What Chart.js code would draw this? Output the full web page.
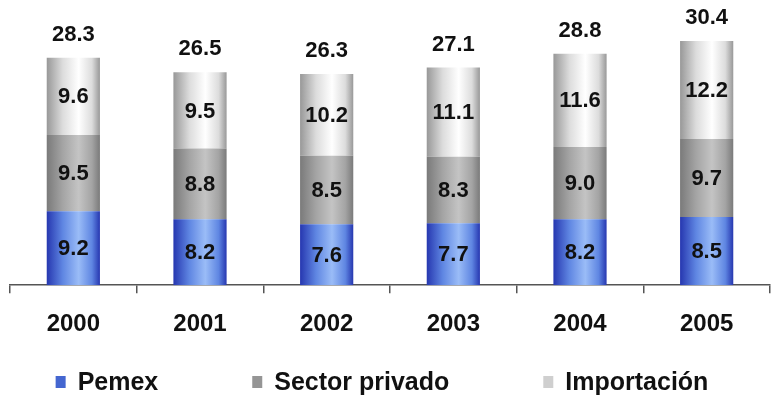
<!DOCTYPE html>
<html>
<head>
<meta charset="utf-8">
<script src="https://cdn.jsdelivr.net/npm/chart.js@4.4.1/dist/chart.umd.min.js"></script>
<style>
  html, body { margin: 0; padding: 0; background: #fff; }
  #wrap { width: 772px; height: 396px; }
</style>
</head>
<body>
<div id="wrap"><canvas id="myChart"></canvas></div>
<script>
// DATA
const years = ["2000", "2001", "2002", "2003", "2004", "2005"];
const pemex = [9.2, 8.2, 7.6, 7.7, 8.2, 8.5];
const privado = [9.5, 8.8, 8.5, 8.3, 9.0, 9.7];
const importacion = [9.6, 9.5, 10.2, 11.1, 11.6, 12.2];
const totals = [28.3, 26.5, 26.3, 27.1, 28.8, 30.4];

const FONT = "'Liberation Sans', Arial, sans-serif";
const BAR_PCT = 0.42;

// colour stops: edge, middle, highlight
const blueStops = ["#2637b0", "#5f86e2", "#9abcf7"];
const grayStops = ["#7a7a7a", "#a4a4a4", "#c4c4c4"];
const whiteStops = ["#989898", "#dcdcdc", "#ffffff"];

function cylinder(context, stops) {
  const chart = context.chart;
  const xs = chart.scales.x;
  if (!xs || !chart.chartArea || context.dataIndex === undefined) return stops[1];
  const c = xs.getPixelForValue(context.dataIndex);
  const w = xs.width / years.length * BAR_PCT;
  const g = chart.ctx.createLinearGradient(c - w / 2, 0, c + w / 2, 0);
  g.addColorStop(0, stops[0]);
  g.addColorStop(0.3, stops[1]);
  g.addColorStop(0.6, stops[2]);
  g.addColorStop(0.85, stops[1]);
  g.addColorStop(1, stops[0]);
  return g;
}

// values inside segments + totals on top
const labelPlugin = {
  id: "labels",
  afterDatasetsDraw(chart) {
    const ctx = chart.ctx;
    ctx.save();
    ctx.font = "bold 22px " + FONT;
    ctx.fillStyle = "#111";
    ctx.textAlign = "center";
    ctx.textBaseline = "middle";
    chart.data.datasets.forEach(function (ds, i) {
      const meta = chart.getDatasetMeta(i);
      meta.data.forEach(function (bar, j) {
        const mid = (bar.y + bar.base) / 2;
        ctx.fillText(ds.data[j].toFixed(1), bar.x, mid + 1);
      });
    });
    const top = chart.getDatasetMeta(2).data;
    top.forEach(function (bar, j) {
      ctx.fillText(totals[j].toFixed(1), bar.x, bar.y - 23);
    });
    ctx.restore();
  }
};

// legend drawn by hand: wide gaps between items
const legendPlugin = {
  id: "wideLegend",
  afterDraw(chart) {
    const ctx = chart.ctx;
    const gap = 94, box = 10, boxH = 12, space = 12;
    const y = 382;
    ctx.save();
    ctx.font = "bold 25px " + FONT;
    ctx.textBaseline = "middle";
    ctx.textAlign = "left";
    const items = chart.data.datasets.map(function (ds) {
      return { text: ds.label, color: ds.legendColor, w: box + space + ctx.measureText(ds.label).width };
    });
    let total = gap * (items.length - 1);
    items.forEach(function (it) { total += it.w; });
    let x = (chart.width - total) / 2 - 4;
    items.forEach(function (it) {
      ctx.fillStyle = it.color;
      ctx.fillRect(x, y - boxH / 2, box, boxH);
      ctx.fillStyle = "#111";
      ctx.fillText(it.text, x + box + space, y + 1);
      x += it.w + gap;
    });
    ctx.restore();
  }
};

const ctx = document.getElementById("myChart");

new Chart(ctx, {
  type: "bar",
  data: {
    labels: years,
    datasets: [
      { label: "Pemex", data: pemex, legendColor: "#4466d0",
        backgroundColor: function (c) { return cylinder(c, blueStops); } },
      { label: "Sector privado", data: privado, legendColor: "#959595",
        backgroundColor: function (c) { return cylinder(c, grayStops); } },
      { label: "Importación", data: importacion, legendColor: "#cfcfcf",
        backgroundColor: function (c) { return cylinder(c, whiteStops); } }
    ]
  },
  options: {
    responsive: true,
    maintainAspectRatio: false,
    animation: false,
    layout: { padding: { top: 4, left: 10, right: 2, bottom: 40 } },
    datasets: {
      bar: { barPercentage: BAR_PCT, categoryPercentage: 1, borderWidth: 0 }
    },
    scales: {
      x: {
        stacked: true,
        border: { display: true, color: "#555", width: 1.5 },
        grid: { offset: true, drawOnChartArea: false, drawTicks: true, tickLength: 8, color: "#555", lineWidth: 1.5 },
        ticks: { color: "#111", padding: 17, font: { family: FONT, size: 24, weight: "bold" } }
      },
      y: {
        stacked: true,
        display: false,
        min: 0,
        max: 35
      }
    },
    plugins: {
      tooltip: { enabled: false },
      legend: { display: false }
    }
  },
  plugins: [labelPlugin, legendPlugin]
});
</script>
</body>
</html>
